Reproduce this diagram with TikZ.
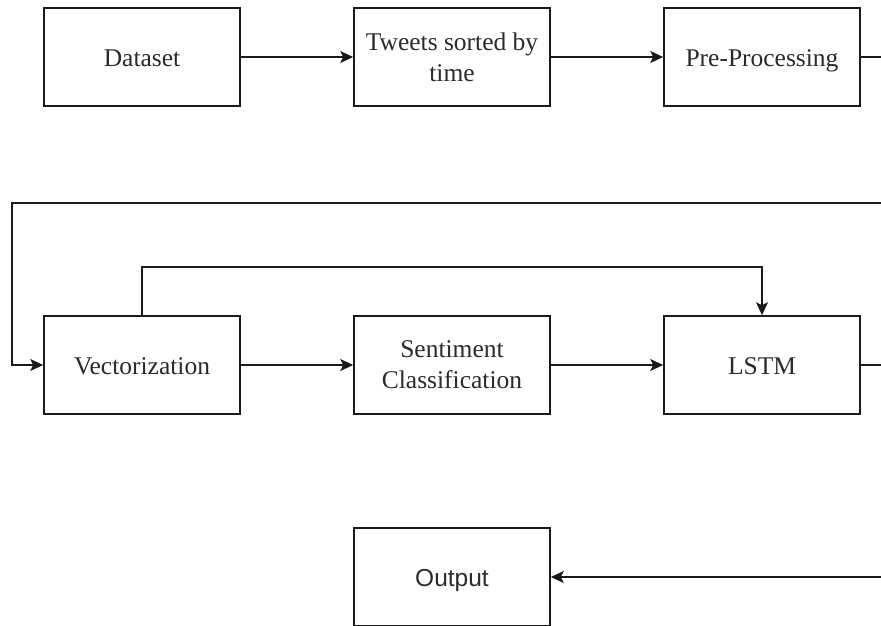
\documentclass[tikz,border=0pt]{standalone}
\usepackage{fontspec}
\setmainfont{Liberation Serif}
\newfontfamily\arialfont{Liberation Sans}
\usetikzlibrary{arrows.meta}
\definecolor{edge}{HTML}{1A1A1A}
\definecolor{ink}{HTML}{2B2B2B}
\tikzset{
  stepbox/.style={draw=edge, line width=1.6pt, fill=white, minimum width=196pt,
    minimum height=98pt, inner sep=2pt, align=center,
    font=\fontsize{25.5}{31}\selectfont, text=ink},
  oneline/.style={text height=21pt, text depth=3pt},
  sansbox/.style={stepbox, oneline, font=\arialfont\fontsize{24.5}{29}\selectfont},
  link/.style={draw=edge, line width=1.6pt},
  flow/.style={link, -{Stealth[length=13pt,width=12pt,inset=3pt]}}
}
\begin{document}
\begin{tikzpicture}[x=1pt,y=-1pt]
  \useasboundingbox (0,0) rectangle (881,625);
  \clip (0,0) rectangle (881,625);

  % first row
  \node[stepbox, oneline] (data)  at (142,57) {Dataset};
  \node[stepbox] (tweet) at (452,57) {Tweets sorted by\\time};
  \node[stepbox, oneline] (prep)  at (762,57) {Pre-Processing};

  % second row
  \node[stepbox, oneline] (vect) at (142,365) {Vectorization};
  \node[stepbox] (sent) at (452,365) {Sentiment\\Classification};
  \node[stepbox, oneline] (lstm) at (762,365) {LSTM};

  % result
  \node[sansbox] (out) at (452,577) {Output};

  % loose ends at the right border
  \coordinate (prepout) at (881,57);
  \coordinate (loopin)  at (881,203);
  \coordinate (lstmout) at (881,365);
  \coordinate (outin)   at (881,577);
  \coordinate (loopcorner) at (12,203);

  % connectors
  \draw[flow] (data) -- (tweet);
  \draw[flow] (tweet) -- (prep);
  \draw[link] (prep.east) -- (prepout);
  \draw[flow] (loopin) -- (loopcorner) |- (vect.west);
  \draw[flow] (vect) -- (sent);
  \draw[flow] (sent) -- (lstm);
  \draw[flow] (vect.north) -- ++(0,-48) -| (lstm.north);
  \draw[link] (lstm.east) -- (lstmout);
  \draw[flow] (outin) -- (out.east);
\end{tikzpicture}
\end{document}
